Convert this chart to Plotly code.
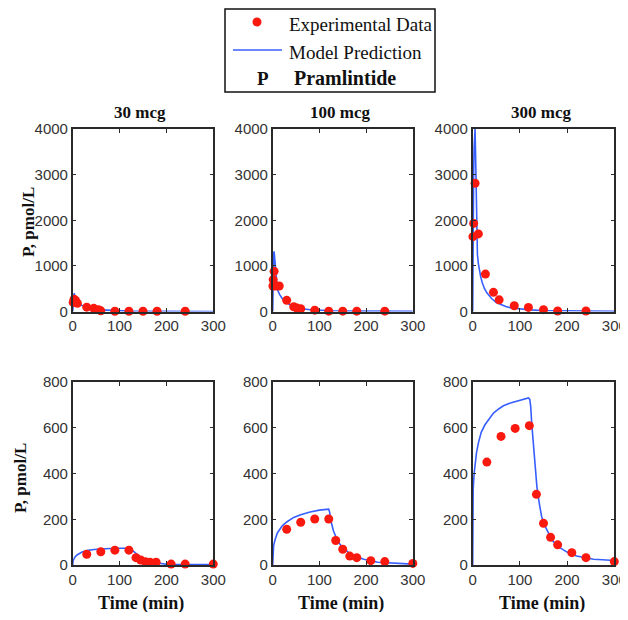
import plotly.graph_objects as go

# page body has an 8px margin, so reference pixel (x, y) maps to figure pixel (x-8, y-8)
OFF = 8
W, H = 620, 604

# ---------------- data ----------------
doses = ["30 mcg", "100 mcg", "300 mcg"]

# Top row (bolus): experimental data
top_exp_t_30 = [1, 3, 6, 10, 30, 45, 55, 60, 90, 120, 150, 180, 240]
top_exp_v_30 = [200, 270, 240, 180, 95, 70, 40, 15, 5, 5, 5, 5, 5]
top_exp_t_100 = [0.5, 1, 3, 7, 14, 30, 45, 52, 60, 90, 120, 150, 180, 240]
top_exp_v_100 = [560, 700, 880, 560, 560, 245, 105, 75, 60, 30, 8, 8, 8, 8]
top_exp_t_300 = [0.5, 2, 5, 12, 27, 44, 56, 88, 118, 150, 180, 240]
top_exp_v_300 = [1640, 1930, 2810, 1700, 820, 420, 255, 125, 90, 40, 10, 10]

# Top row: model prediction
top_mod_t_30 = [0, 1, 2, 3, 4, 6, 8, 10, 15, 20, 30, 40, 60, 90, 120, 180, 240, 300]
top_mod_v_30 = [0, 250, 380, 400, 370, 300, 250, 210, 160, 130, 90, 65, 35, 15, 8, 3, 2, 1]
top_mod_t_100 = [0, 0.5, 1, 2, 3, 4, 5, 7, 10, 15, 20, 30, 40, 50, 60, 80, 100, 130, 180, 240, 300]
top_mod_v_100 = [0, 500, 900, 1250, 1320, 1200, 1000, 700, 480, 370, 290, 190, 130, 90, 65, 38, 25, 15, 8, 5, 3]
top_mod_t_300 = [0, 0.5, 1, 2, 3, 4, 5, 6, 7, 8, 9, 10, 12, 14, 17, 20, 25, 30, 35, 40, 50, 60, 70, 80, 100, 120, 150, 180, 240, 300]
top_mod_v_300 = [0, 1600, 2200, 3000, 3600, 3950, 4000, 3500, 2600, 1800, 1450, 1250, 1050, 920, 760, 640, 500, 410, 340, 285, 195, 145, 108, 82, 52, 36, 22, 15, 10, 7]

# Bottom row (infusion): experimental data
bot_exp_t_30 = [30, 60, 90, 120, 135, 145, 155, 165, 178, 210, 240, 300]
bot_exp_v_30 = [47, 58, 65, 65, 32, 22, 14, 12, 12, 4, 4, 4]
bot_exp_t_100 = [30, 60, 90, 120, 135, 150, 165, 180, 210, 240, 300]
bot_exp_v_100 = [156, 187, 201, 201, 107, 69, 39, 32, 19, 15, 7]
bot_exp_t_300 = [30, 60, 90, 120, 135, 150, 165, 180, 210, 240, 300]
bot_exp_v_300 = [450, 562, 597, 609, 309, 182, 121, 88, 54, 32, 15]

# Bottom row: model prediction
bot_mod_t_30 = [0, 1, 5, 10, 20, 30, 45, 60, 80, 100, 120, 125, 130, 140, 150, 160, 175, 190, 200, 250, 300]
bot_mod_v_30 = [0, 20, 35, 45, 57, 63, 68, 71, 72, 73, 73, 68, 58, 42, 30, 20, 11, 5, 3, 2, 2]
bot_mod_t_100 = [0, 0.5, 2, 5, 10, 20, 30, 45, 60, 80, 100, 120, 122, 125, 130, 138, 145, 152, 165, 175, 195, 225, 265, 300]
bot_mod_v_100 = [0, 60, 85, 110, 140, 170, 188, 208, 220, 232, 240, 244, 230, 190, 150, 110, 88, 73, 50, 39, 25, 12, 7, 4]
bot_mod_t_300 = [0, 0.3, 0.6, 1, 3, 5, 8, 12, 18, 26, 35, 44, 55, 65, 80, 93, 105, 118, 121, 123, 125, 128, 131, 136, 141, 146, 152, 157, 164, 171, 182, 192, 205, 220, 240, 256, 275, 291, 300]
bot_mod_v_300 = [0, 200, 285, 330, 400, 445, 490, 533, 580, 613, 640, 664, 682, 696, 708, 715, 722, 730, 724, 690, 620, 540, 460, 343, 270, 212, 175, 153, 125, 102, 80, 66, 50, 39, 30, 25, 23, 22, 20]

x_ticks = [0, 100, 200, 300]
top_y_ticks = [0, 1000, 2000, 3000, 4000]
bot_y_ticks = [0, 200, 400, 600, 800]

legend_labels = ["Experimental Data", "Model Prediction"]
legend_note_symbol = "P"
legend_note_text = "Pramlintide"
y_label = "P, pmol/L"
x_label = "Time (min)"

# ---------------- style ----------------
RED = "rgb(250,25,15)"
BLUE = "rgb(55,95,255)"
AX = "#2a2a2a"
SERIF = "Liberation Serif, Times New Roman, serif"
SANS = "Liberation Sans, Arial, sans-serif"

def px(x):
    return (x - OFF) / W

def py(y):
    return 1 - (y - OFF) / H

col_px = [(72.7, 213.3), (272.7, 412.8), (472.7, 614.3)]
row_px = [(129, 311.5), (382, 565)]

fig = go.Figure()

panels = [
    (top_exp_t_30, top_exp_v_30, top_mod_t_30, top_mod_v_30),
    (top_exp_t_100, top_exp_v_100, top_mod_t_100, top_mod_v_100),
    (top_exp_t_300, top_exp_v_300, top_mod_t_300, top_mod_v_300),
    (bot_exp_t_30, bot_exp_v_30, bot_mod_t_30, bot_mod_v_30),
    (bot_exp_t_100, bot_exp_v_100, bot_mod_t_100, bot_mod_v_100),
    (bot_exp_t_300, bot_exp_v_300, bot_mod_t_300, bot_mod_v_300),
]

layout = {}
for i, (et, ev, mt, mv) in enumerate(panels):
    r, c = divmod(i, 3)
    n = i + 1
    xa = "x" if n == 1 else f"x{n}"
    ya = "y" if n == 1 else f"y{n}"
    fig.add_trace(go.Scatter(x=mt, y=mv, mode="lines", xaxis=xa, yaxis=ya,
                             line=dict(color=BLUE, width=1.6), showlegend=False,
                             name=legend_labels[1], cliponaxis=False))
    fig.add_trace(go.Scatter(x=et, y=ev, mode="markers", xaxis=xa, yaxis=ya,
                             marker=dict(color=RED, size=9, line=dict(width=0)),
                             showlegend=False, name=legend_labels[0], cliponaxis=False))
    x0, x1 = col_px[c]
    y0, y1 = row_px[r]
    common = dict(showline=True, linecolor=AX, linewidth=1.5, mirror="ticks",
                  ticks="inside", ticklen=4, tickcolor=AX, tickwidth=1.2,
                  showgrid=False, zeroline=False, automargin=False,
                  tickfont=dict(family=SANS, size=15, color="#333"))
    layout["xaxis" if n == 1 else f"xaxis{n}"] = dict(
        domain=[px(x0), px(x1)], range=[0, 300], tickvals=x_ticks,
        anchor=ya, **common)
    layout["yaxis" if n == 1 else f"yaxis{n}"] = dict(
        domain=[py(y1), py(y0)], range=[0, 4000 if r == 0 else 800],
        tickvals=top_y_ticks if r == 0 else bot_y_ticks,
        anchor=xa, **common)

fig.update_layout(**layout)

ann = []
for c, d in enumerate(doses):
    x0, x1 = col_px[c]
    ann.append(dict(text=f"<b>{d}</b>", x=px((x0 + x1) / 2 - 3), y=py(113),
                    xref="paper", yref="paper", showarrow=False,
                    xanchor="center", yanchor="middle",
                    font=dict(family=SERIF, size=17, color="#111")))
    ann.append(dict(text=f"<b>{x_label}</b>", x=px((x0 + x1) / 2 - 2), y=py(603),
                    xref="paper", yref="paper", showarrow=False,
                    xanchor="center", yanchor="middle",
                    font=dict(family=SERIF, size=18, color="#111")))
ann.append(dict(text=f"<b>{y_label}</b>", x=px(29), y=py(222), textangle=-90,
                xref="paper", yref="paper", showarrow=False,
                xanchor="center", yanchor="middle",
                font=dict(family=SERIF, size=17, color="#111")))
ann.append(dict(text=f"<b>{y_label}</b>", x=px(20), y=py(478), textangle=-90,
                xref="paper", yref="paper", showarrow=False,
                xanchor="center", yanchor="middle",
                font=dict(family=SERIF, size=17, color="#111")))
ann.append(dict(text=legend_labels[0], x=px(287), y=py(24), xref="paper", yref="paper",
                showarrow=False, xanchor="left", yanchor="middle",
                font=dict(family=SERIF, size=19, color="#111")))
ann.append(dict(text=legend_labels[1], x=px(287), y=py(52), xref="paper", yref="paper",
                showarrow=False, xanchor="left", yanchor="middle",
                font=dict(family=SERIF, size=19, color="#111")))
ann.append(dict(text=f"<b>{legend_note_symbol}</b>", x=px(263), y=py(78), xref="paper", yref="paper",
                showarrow=False, xanchor="center", yanchor="middle",
                font=dict(family=SERIF, size=19, color="#111")))
ann.append(dict(text=f"<b>{legend_note_text}</b>", x=px(292), y=py(78), xref="paper", yref="paper",
                showarrow=False, xanchor="left", yanchor="middle",
                font=dict(family=SERIF, size=20, color="#111")))

shapes = [
    dict(type="rect", xref="paper", yref="paper", x0=px(225), x1=px(435), y0=py(92), y1=py(9),
         line=dict(color="#111", width=1.5), fillcolor="rgba(0,0,0,0)"),
    dict(type="line", xref="paper", yref="paper", x0=px(233), x1=px(282), y0=py(50), y1=py(50),
         line=dict(color=BLUE, width=1.6)),
    dict(type="circle", xref="paper", yref="paper", xsizemode="pixel", ysizemode="pixel",
         xanchor=px(257), yanchor=py(22), x0=-4.5, x1=4.5, y0=-4.5, y1=4.5,
         fillcolor=RED, line=dict(width=0)),
]

fig.update_layout(width=W, height=H, margin=dict(l=0, r=0, t=0, b=0, autoexpand=False),
                  paper_bgcolor="white", plot_bgcolor="white",
                  annotations=ann, shapes=shapes, showlegend=False)

fig.write_html("out.html")
